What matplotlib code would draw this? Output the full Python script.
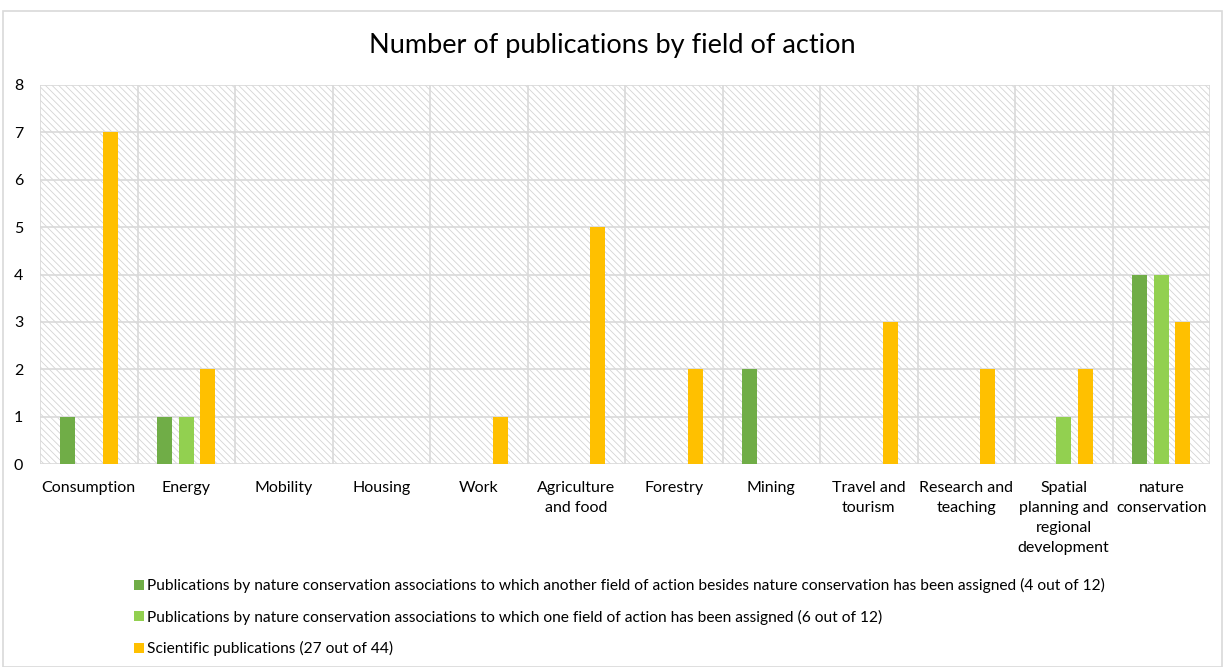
import matplotlib.pyplot as plt
import numpy as np
from matplotlib.patches import Rectangle

plt.rcParams["font.family"] = ["Lato", "DejaVu Sans"]
plt.rcParams["hatch.linewidth"] = 0.6
plt.rcParams["hatch.color"] = "#d4d4d4"

categories = [
    "Consumption",
    "Energy",
    "Mobility",
    "Housing",
    "Work",
    "Agriculture\nand food",
    "Forestry",
    "Mining",
    "Travel and\ntourism",
    "Research and\nteaching",
    "Spatial\nplanning and\nregional\ndevelopment",
    "nature\nconservation",
]

other_field = [1, 1, 0, 0, 0, 0, 0, 2, 0, 0, 0, 4]
one_field = [0, 1, 0, 0, 0, 0, 0, 0, 0, 0, 1, 4]
scientific = [7, 2, 0, 0, 1, 5, 2, 0, 3, 2, 2, 3]

series_labels = [
    "Publications by nature conservation associations to which another field of action besides nature conservation has been assigned (4 out of 12)",
    "Publications by nature conservation associations to which one field of action has been assigned (6 out of 12)",
    "Scientific publications (27 out of 44)",
]
colors = ["#70ad47", "#92d050", "#ffc000"]

fig = plt.figure(figsize=(12.25, 6.67), dpi=100)
fig.patches.append(
    Rectangle((3 / 1225, 0), 1219 / 1225, 1 - 11 / 667, transform=fig.transFigure,
              fill=False, edgecolor="#d9d9d9", linewidth=1.2)
)

ax = fig.add_axes([40 / 1225, 1 - 464 / 667, 1170 / 1225, 379 / 667])
ax.patch.set_facecolor("white")
ax.patch.set_hatch("\\\\\\\\\\")
ax.patch.set_edgecolor("#d4d4d4")
ax.patch.set_linewidth(0)

x = np.arange(len(categories))
width = 0.155
step = 0.22
for i, (vals, col, lab) in enumerate(zip([other_field, one_field, scientific], colors, series_labels)):
    ax.bar(x + (i - 1) * step, vals, width=width, color=col, label=lab, zorder=3)

ax.set_xlim(-0.5, len(categories) - 0.5)
ax.set_ylim(0, 8)
ax.set_yticks(range(0, 9))
ax.set_xticks(x)
ax.set_xticklabels(categories, fontsize=11.5, va="top", linespacing=1.55)
ax.set_xticks(np.arange(len(categories) + 1) - 0.5, minor=True)
ax.tick_params(axis="both", which="both", length=0)
ax.tick_params(axis="y", labelsize=11.5, pad=12)
ax.tick_params(axis="x", pad=12)
ax.grid(axis="y", color="#d9d9d9", linewidth=1.2, zorder=1)
ax.grid(axis="x", which="minor", color="#d9d9d9", linewidth=1.2, zorder=1)
ax.grid(axis="x", which="major", visible=False)
ax.set_axisbelow(True)
for s in ax.spines.values():
    s.set_visible(False)

fig.text(0.5, 1 - 45 / 667, "Number of publications by field of action",
         ha="center", va="center", fontsize=19.5)

fig.legend(loc="upper left", bbox_to_anchor=(128 / 1225, 1 - 572 / 667),
           frameon=False, fontsize=11.2, handlelength=0.6, handleheight=0.6,
           handletextpad=0.25, labelspacing=1.05, borderaxespad=0)

fig.savefig("out.png", dpi=100)
